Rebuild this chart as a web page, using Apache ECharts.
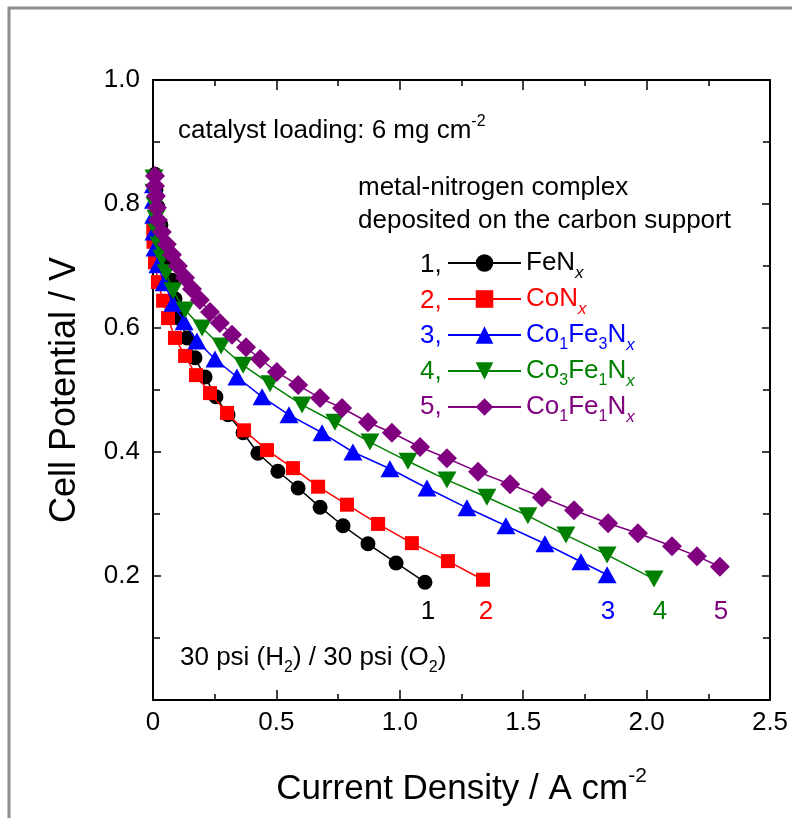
<!DOCTYPE html>
<html><head><meta charset="utf-8">
<script src="https://cdn.jsdelivr.net/npm/echarts@6/dist/echarts.min.js"></script>
<style>html,body{margin:0;padding:0;background:#fff}#c{width:792px;height:818px}</style>
</head><body><div id="c"></div>
<script>
const seriesNames = ['FeNx', 'CoNx', 'Co1Fe3Nx', 'Co3Fe1Nx', 'Co1Fe1Nx'];
const seriesColors = ['#000000', '#ff0000', '#0000ff', '#008000', '#800080'];
const xTickLabels = ['0', '0.5', '1.0', '1.5', '2.0', '2.5'];
const yTickLabels = ['', '0.2', '0.4', '0.6', '0.8', '1.0'];

const xFeNx = [0.008,0.012,0.020,0.032,0.045,0.061,0.077,0.089,0.105,0.138,0.170,0.211,0.255,0.304,0.365,0.425,0.506,0.588,0.677,0.770,0.871,0.985,1.102];
const yFeNx = [0.848,0.823,0.795,0.766,0.737,0.706,0.677,0.647,0.616,0.584,0.552,0.521,0.489,0.460,0.431,0.398,0.369,0.342,0.311,0.281,0.252,0.221,0.190];

const xCoNx = [0.001,0.002,0.008,0.020,0.041,0.061,0.089,0.130,0.174,0.231,0.300,0.369,0.462,0.567,0.669,0.786,0.912,1.049,1.195,1.337];
const yCoNx = [0.761,0.739,0.706,0.674,0.644,0.616,0.584,0.555,0.524,0.495,0.463,0.435,0.403,0.374,0.344,0.315,0.284,0.253,0.224,0.194];

const xCo1Fe3Nx = [0.002,0.002,0.003,0.004,0.008,0.020,0.045,0.081,0.126,0.178,0.251,0.340,0.442,0.551,0.685,0.810,0.960,1.110,1.272,1.430,1.588,1.734,1.840];
const yCo1Fe3Nx = [0.831,0.806,0.782,0.755,0.729,0.702,0.673,0.640,0.610,0.579,0.550,0.521,0.489,0.460,0.431,0.400,0.373,0.342,0.310,0.281,0.252,0.223,0.202];

const xCo3Fe1Nx = [0.004,0.004,0.008,0.012,0.016,0.024,0.036,0.053,0.081,0.130,0.199,0.276,0.365,0.474,0.604,0.737,0.879,1.033,1.191,1.353,1.519,1.673,1.840,2.030];
const yCo3Fe1Nx = [0.842,0.819,0.798,0.777,0.755,0.734,0.713,0.689,0.660,0.629,0.600,0.571,0.540,0.510,0.476,0.448,0.416,0.385,0.355,0.327,0.297,0.266,0.234,0.195];

const xCo1Fe1Nx = [0.008,0.008,0.012,0.016,0.020,0.036,0.056,0.077,0.101,0.130,0.158,0.190,0.231,0.271,0.320,0.377,0.434,0.502,0.588,0.677,0.766,0.871,0.968,1.082,1.191,1.317,1.447,1.576,1.706,1.844,1.965,2.103,2.204,2.297];
const yCo1Fe1Nx = [0.845,0.829,0.813,0.794,0.774,0.755,0.735,0.718,0.700,0.681,0.663,0.645,0.626,0.608,0.589,0.569,0.550,0.529,0.508,0.487,0.471,0.448,0.431,0.408,0.390,0.368,0.348,0.327,0.306,0.285,0.269,0.248,0.232,0.215];

const FONT = "'Liberation Sans', Arial, sans-serif";
const zip = (xs, ys) => xs.map((v, i) => [v, ys[i]]);
const allX = [xFeNx, xCoNx, xCo1Fe3Nx, xCo3Fe1Nx, xCo1Fe1Nx];
const allY = [yFeNx, yCoNx, yCo1Fe3Nx, yCo3Fe1Nx, yCo1Fe1Nx];
const symbols = ['circle', 'rect', 'triangle', 'triangle', 'diamond'];
const symbolSizes = [15, 14, [19, 17], [19, 17], 20];
const symbolRotates = [0, 0, 0, 180, 0];

function richFor(i) {
  const c = seriesColors[i];
  return {
    ['b' + i]: { fontSize: 26, fontFamily: FONT, color: c, lineHeight: 26, verticalAlign: 'top' },
    ['s' + i]: { fontSize: 16, fontFamily: FONT, color: c, lineHeight: 16, verticalAlign: 'top', padding: [15, 0, 0, 0] },
    ['i' + i]: { fontSize: 17, fontFamily: FONT, fontStyle: 'italic', color: c, lineHeight: 16, verticalAlign: 'top', padding: [15, 0, 0, 0] }
  };
}
const legendRich = Object.assign({}, ...seriesNames.map((n, i) => richFor(i)));
const legendText = [
  i => `{b${i}|FeN}{i${i}|x}`,
  i => `{b${i}|CoN}{i${i}|x}`,
  i => `{b${i}|Co}{s${i}|1}{b${i}|Fe}{s${i}|3}{b${i}|N}{i${i}|x}`,
  i => `{b${i}|Co}{s${i}|3}{b${i}|Fe}{s${i}|1}{b${i}|N}{i${i}|x}`,
  i => `{b${i}|Co}{s${i}|1}{b${i}|Fe}{s${i}|1}{b${i}|N}{i${i}|x}`
];

const chart = echarts.init(document.getElementById('c'), null, { renderer: 'canvas' });

const series = seriesNames.map((name, i) => ({
  name,
  type: 'line',
  data: zip(allX[i], allY[i]),
  symbol: symbols[i],
  symbolSize: symbolSizes[i],
  symbolRotate: symbolRotates[i],
  showAllSymbol: true,
  lineStyle: { color: seriesColors[i], width: 1.5 },
  itemStyle: { color: seriesColors[i] },
  animation: false,
  z: 2 + i
}));

const axisCommon = {
  axisLine: { show: true, onZero: false, lineStyle: { color: '#000', width: 2 } },
  splitLine: { show: false },
  minorSplitLine: { show: false }
};

const annoRich = {
  b: { fontSize: 26, fontFamily: FONT, color: '#000', lineHeight: 26, verticalAlign: 'top', padding: [4, 0, 0, 0] },
  sup: { fontSize: 16, fontFamily: FONT, color: '#000', lineHeight: 16, verticalAlign: 'top' },
  sub: { fontSize: 16, fontFamily: FONT, color: '#000', lineHeight: 16, verticalAlign: 'top', padding: [19, 0, 0, 0] }
};

const endLabelX = [428, 486, 608, 660, 721];

const graphics = [
  { type: 'rect', shape: { x: 9, y: 8, width: 1200, height: 1200 }, style: { fill: 'none', stroke: '#8c8c8c', lineWidth: 3 }, silent: true, z: 0 },
  { type: 'text', x: 178, y: 127, style: { text: '{b|catalyst loading: 6 mg cm}{sup|-2}', rich: annoRich, verticalAlign: 'middle', align: 'left' } },
  { type: 'text', x: 358, y: 188, style: { text: 'metal-nitrogen complex', verticalAlign: 'middle', align: 'left', font: "26px 'Liberation Sans', Arial, sans-serif", fill: '#000' } },
  { type: 'text', x: 358, y: 221, style: { text: 'deposited on the carbon support', verticalAlign: 'middle', align: 'left', font: "26px 'Liberation Sans', Arial, sans-serif", fill: '#000' } },
  { type: 'text', x: 180, y: 654, style: { text: '{b|30 psi (H}{sub|2}{b|) / 30 psi (O}{sub|2}{b|)}', rich: annoRich, verticalAlign: 'middle', align: 'left' } }
];
seriesNames.forEach((n, i) => {
  graphics.push({ type: 'text', x: 420, y: 265 + 35.5 * i, style: { text: (i + 1) + ',', verticalAlign: 'middle', align: 'left', font: "26px 'Liberation Sans', Arial, sans-serif", fill: seriesColors[i] } });
  graphics.push({ type: 'text', x: endLabelX[i], y: 612, style: { text: String(i + 1), verticalAlign: 'middle', align: 'center', font: "26px 'Liberation Sans', Arial, sans-serif", fill: seriesColors[i] } });
});

const option = {
  animation: false,
  backgroundColor: '#fff',
  grid: { left: 153, right: 22, top: 80, bottom: 118, containLabel: false },
  legend: {
    orient: 'vertical',
    left: 447,
    top: 250,
    padding: 0,
    itemGap: 4,
    itemWidth: 73,
    itemHeight: 22,
    selectedMode: false,
    data: seriesNames.map(n => ({ name: n })),
    formatter: name => legendText[seriesNames.indexOf(name)](seriesNames.indexOf(name)),
    textStyle: { rich: legendRich, fontSize: 26, fontFamily: FONT }
  },
  xAxis: [
    Object.assign({}, axisCommon, {
      type: 'value', position: 'bottom', min: 0, max: 2.5, interval: 0.5,
      axisTick: { show: true, inside: true, length: 10, lineStyle: { color: '#000', width: 1.5 } },
      minorTick: { show: true, splitNumber: 2, length: 6, lineStyle: { color: '#000', width: 1.5 } },
      axisLabel: { show: true, margin: 10, fontSize: 26, fontFamily: FONT, color: '#000',
        formatter: v => xTickLabels[Math.round(v / 0.5)] },
      name: '{b|Current Density / A cm}{sup|-2}',
      nameLocation: 'middle', nameGap: 66,
      nameTextStyle: { rich: {
        b: { fontSize: 35, fontFamily: FONT, color: '#000', lineHeight: 35, verticalAlign: 'top', padding: [6, 0, 0, 0] },
        sup: { fontSize: 21, fontFamily: FONT, color: '#000', lineHeight: 21, verticalAlign: 'top' }
      } }
    }),
    Object.assign({}, axisCommon, {
      type: 'value', position: 'top', min: 0, max: 2.5, interval: 0.5,
      axisTick: { show: true, inside: true, length: 10, lineStyle: { color: '#000', width: 1.5 } },
      minorTick: { show: true, splitNumber: 2, length: 6, lineStyle: { color: '#000', width: 1.5 } },
      axisLabel: { show: false }
    })
  ],
  yAxis: [
    Object.assign({}, axisCommon, {
      type: 'value', position: 'left', min: 0, max: 1.0, interval: 0.2,
      axisTick: { show: true, inside: true, length: 8, lineStyle: { color: '#000', width: 1.5 } },
      minorTick: { show: true, splitNumber: 2, length: 7, lineStyle: { color: '#000', width: 1.5 } },
      axisLabel: { show: true, margin: 13, fontSize: 26, fontFamily: FONT, color: '#000',
        formatter: v => yTickLabels[Math.round(v / 0.2)] },
      name: 'Cell Potential / V',
      nameLocation: 'middle', nameGap: 70,
      nameTextStyle: { fontSize: 36, fontFamily: FONT, color: '#000' }
    }),
    Object.assign({}, axisCommon, {
      type: 'value', position: 'right', min: 0, max: 1.0, interval: 0.2,
      axisTick: { show: true, inside: true, length: 8, lineStyle: { color: '#000', width: 1.5 } },
      minorTick: { show: true, splitNumber: 2, length: 7, lineStyle: { color: '#000', width: 1.5 } },
      axisLabel: { show: false }
    })
  ],
  series,
  graphic: graphics
};
chart.setOption(option);
</script>
</body></html>
